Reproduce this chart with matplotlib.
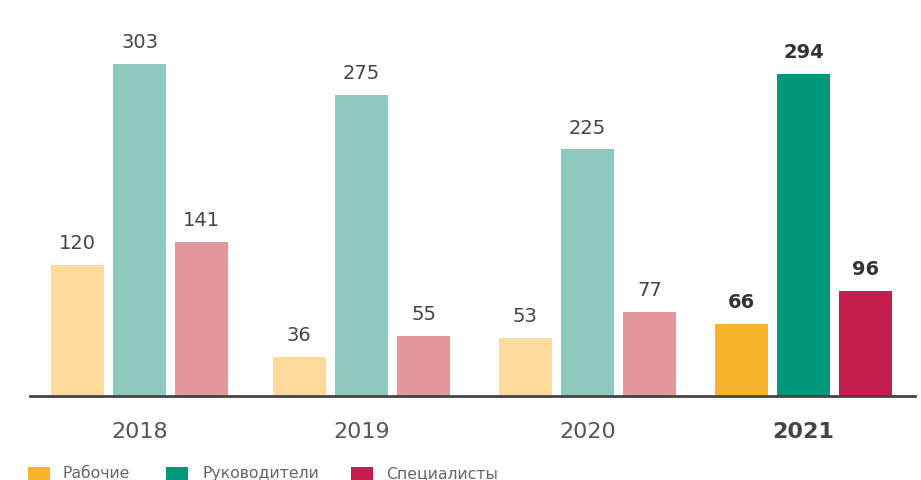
import matplotlib
matplotlib.use("Agg")
import matplotlib.pyplot as plt
from matplotlib.patches import Rectangle

years = ["2018", "2019", "2020", "2021"]
series = ["Рабочие", "Руководители", "Специалисты"]
workers = [120, 36, 53, 66]
managers = [303, 275, 225, 294]
specialists = [141, 55, 77, 96]
values = [workers, managers, specialists]

light = ["#FDD99B", "#8DCABD", "#E1979C"]
dark = ["#F8B42A", "#00977A", "#C51D4C"]

W, H = 921, 481
fig = plt.figure(figsize=(W / 100, H / 100), dpi=100)
ax_left, ax_right, ax_bottom_px, ax_top_px = 30, 915, 397, 0
ax = fig.add_axes([ax_left / W, 1 - ax_bottom_px / H, (ax_right - ax_left) / W,
                   (ax_bottom_px - ax_top_px) / H])

px_per_unit = 1.0957
ax.set_ylim(0, (ax_bottom_px - ax_top_px) / px_per_unit)
ax.set_xlim(ax_left, ax_right)  # x axis in pixel units for layout

group_centers = [139.5, 361.5, 587.5, 803.5]  # layout positions (px)
bw = 53
step = 62.3
fam = ["DejaVu Sans"]

for i, vals in enumerate(values):
    for j, v in enumerate(vals):
        last = j == len(years) - 1
        color = dark[i] if last else light[i]
        xi = group_centers[j] + (i - 1) * step
        ax.bar(xi, v, width=bw, color=color, linewidth=0)
        ax.text(xi, v + 11.5, str(v), ha="center", va="bottom", fontsize=14,
                color="#333333" if last else "#444444",
                fontweight="bold" if last else "normal", family=fam)

for j, yr in enumerate(years):
    last = j == len(years) - 1
    ax.text(group_centers[j], -32, yr, ha="center", va="center", fontsize=16,
            color="#444444" if last else "#555555",
            fontweight="bold" if last else "normal", family=fam)

ax.axhline(0, color="#444444", linewidth=2, clip_on=False)
for s in ax.spines.values():
    s.set_visible(False)
ax.set_xticks([])
ax.set_yticks([])
ax.patch.set_alpha(0)

# legend
sq_x = [28, 166, 351]
tx_x = [63, 202, 386]
for i, name in enumerate(series):
    fig.patches.append(Rectangle((sq_x[i] / W, 1 - 481 / H), 22 / W, 13 / H,
                                 transform=fig.transFigure, color=dark[i], linewidth=0))
    fig.text(tx_x[i] / W, 1 - 474 / H, name, ha="left", va="center", fontsize=11.3,
             color="#666666", family=fam)

fig.savefig("out.png", dpi=100)
